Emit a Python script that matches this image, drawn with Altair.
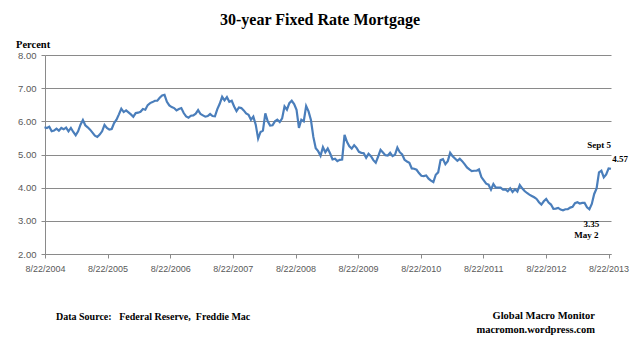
import altair as alt
import pandas as pd

# ---------------- text ----------------
title_text = "30-year Fixed Rate Mortgage"
y_unit_text = "Percent"
source_text = "Data Source:\u00a0\u00a0 Federal Reserve,\u00a0 Freddie Mac"
brand_text = "Global Macro Monitor"
site_text = "macromon.wordpress.com"

# ---------------- data (bi-weekly readings, Thursdays) ----------------
start_date = "2004-08-19"
rates_2004 = [5.82, 5.80, 5.84, 5.70, 5.72, 5.78, 5.72, 5.80, 5.76, 5.81]
rates_2005 = [5.70, 5.80, 5.68, 5.58, 5.70, 5.90, 6.04, 5.88, 5.82, 5.75, 5.66, 5.57, 5.53,
              5.60, 5.70, 5.89, 5.80, 5.75, 5.77, 5.95, 6.05, 6.21, 6.38, 6.28, 6.33, 6.27]
rates_2006 = [6.21, 6.14, 6.25, 6.26, 6.29, 6.37, 6.35, 6.49, 6.55, 6.58, 6.62, 6.62, 6.71,
              6.78, 6.80, 6.59, 6.48, 6.43, 6.40, 6.33, 6.37, 6.40, 6.25, 6.15, 6.11, 6.17]
rates_2007 = [6.18, 6.23, 6.34, 6.22, 6.18, 6.14, 6.16, 6.22, 6.16, 6.15, 6.37, 6.53, 6.74,
              6.63, 6.73, 6.59, 6.62, 6.45, 6.31, 6.42, 6.40, 6.33, 6.24, 6.20, 6.05, 6.14]
rates_2008 = [5.90, 5.48, 5.68, 5.72, 6.24, 6.00, 5.87, 5.88, 6.00, 6.05, 5.98, 6.09, 6.45,
              6.35, 6.55, 6.62, 6.52, 6.35, 5.80, 6.05, 6.00, 6.46, 6.30, 6.04, 5.53, 5.19]
rates_2009 = [5.10, 4.96, 5.22, 5.07, 5.18, 5.03, 4.85, 4.87, 4.80, 4.84, 4.85, 5.59, 5.38,
              5.25, 5.18, 5.28, 5.20, 5.08, 5.05, 5.04, 4.90, 5.02, 4.95, 4.83, 4.75, 4.94, 5.14]
rates_2010 = [5.06, 4.98, 4.97, 5.05, 4.95, 4.99, 5.21, 5.07, 5.00, 4.84, 4.79, 4.75, 4.58,
              4.57, 4.54, 4.44, 4.36, 4.35, 4.37, 4.27, 4.21, 4.17, 4.39, 4.46, 4.83, 4.86]
rates_2011 = [4.71, 4.80, 5.05, 4.95, 4.88, 4.81, 4.87, 4.80, 4.71, 4.61, 4.55, 4.50, 4.51,
              4.51, 4.55, 4.32, 4.22, 4.12, 4.09, 3.94, 4.11, 4.00, 4.00, 4.00, 3.94, 3.95]
rates_2012 = [3.89, 3.98, 3.87, 3.95, 3.88, 4.08, 3.98, 3.90, 3.84, 3.79, 3.75, 3.71, 3.66,
              3.56, 3.49, 3.59, 3.66, 3.55, 3.49, 3.36, 3.37, 3.39, 3.34, 3.32, 3.35, 3.35]
rates_2013 = [3.40, 3.42, 3.53, 3.56, 3.52, 3.54, 3.54, 3.41, 3.35, 3.51, 3.81, 3.98, 4.46,
              4.51, 4.31, 4.40, 4.58, 4.57]

rates = (rates_2004 + rates_2005 + rates_2006 + rates_2007 + rates_2008 + rates_2009
         + rates_2010 + rates_2011 + rates_2012 + rates_2013)
dates = pd.date_range(start_date, periods=len(rates), freq="14D")
df = pd.DataFrame({"date": dates, "rate": rates})

tick_years = [2004, 2005, 2006, 2007, 2008, 2009, 2010, 2011, 2012, 2013]
y_ticks = [2, 3, 4, 5, 6, 7, 8]

ann_dates = ["2013-09-05", "2013-09-05", "2013-05-02", "2013-05-02"]
ann_values = [4.57, 4.57, 3.35, 3.35]
ann_labels = ["Sept 5", "4.57", "3.35", "May 2"]
ann_df = pd.DataFrame({"date": pd.to_datetime(ann_dates), "rate": ann_values, "label": ann_labels})

# ---------------- style ----------------
SERIF = "Liberation Serif"
SANS = "Liberation Sans"
AXIS_GREY = "#8a8a8a"
LABEL_GREY = "#595959"
W, H = 566, 199

x_scale = alt.Scale(domain=[alt.DateTime(year=2004, month=8, date=22),
                            alt.DateTime(year=2013, month=9, date=5)], nice=False)
y_scale = alt.Scale(domain=[2, 8], nice=False, zero=False)

x_axis = alt.Axis(values=[alt.DateTime(year=y, month=8, date=22) for y in tick_years],
                  format="%-m/%d/%Y", title=None, grid=False, tickSize=4, labelPadding=6,
                  labelFont=SANS, labelFontSize=9, labelColor=LABEL_GREY,
                  domainColor=AXIS_GREY, tickColor=AXIS_GREY, labelFlush=False,
                  labelOverlap=False)
y_axis = alt.Axis(values=y_ticks, format=".2f", title=None, grid=True, gridColor=AXIS_GREY,
                  gridWidth=1, tickSize=4, labelPadding=5, labelFont=SANS, labelFontSize=9.5,
                  labelColor=LABEL_GREY, domainColor=AXIS_GREY, tickColor=AXIS_GREY,
                  labelOverlap=False)


def xe():
    return alt.X("date:T", scale=x_scale, axis=x_axis)


def ye():
    return alt.Y("rate:Q", scale=y_scale, axis=y_axis)


line = alt.Chart(df).mark_line(color="#4A7EBB", strokeWidth=2.2).encode(x=xe(), y=ye())

offsets = {"Sept 5": (-12, -24), "4.57": (9, -10), "3.35": (2, 15), "May 2": (-3, 26)}
ann_layers = []
for lab in ann_labels:
    dx, dy = offsets[lab]
    ann_layers.append(
        alt.Chart(ann_df).transform_filter(alt.datum.label == lab)
        .mark_text(font=SERIF, fontWeight="bold", fontSize=9, color="black",
                   dx=dx, dy=dy, baseline="middle", align="center")
        .encode(x=xe(), y=ye(), text="label:N")
    )


def label(text, x, y, size, align="left"):
    return alt.Chart(pd.DataFrame({"t": [text]})).mark_text(
        font=SERIF, fontWeight="bold", fontSize=size, color="black",
        align=align, baseline="alphabetic"
    ).encode(text="t:N", x=alt.value(x), y=alt.value(y))


texts = [
    label(title_text, 275, -30, 16, "center"),
    label(y_unit_text, -29, -7.5, 10.5),
    label(source_text, 11, 265, 10),
    label(brand_text, 550, 264, 10.5, "right"),
    label(site_text, 550, 278, 10.5, "right"),
]

chart = alt.layer(line, *ann_layers, *texts).properties(
    width=W, height=H,
    autosize=alt.AutoSizeParams(type="none"),
    padding={"left": 37, "top": 47, "right": 21, "bottom": 100},
    background="white",
).configure_view(stroke=None)

chart.save("out.html", embed_options={"renderer": "svg", "actions": False})
